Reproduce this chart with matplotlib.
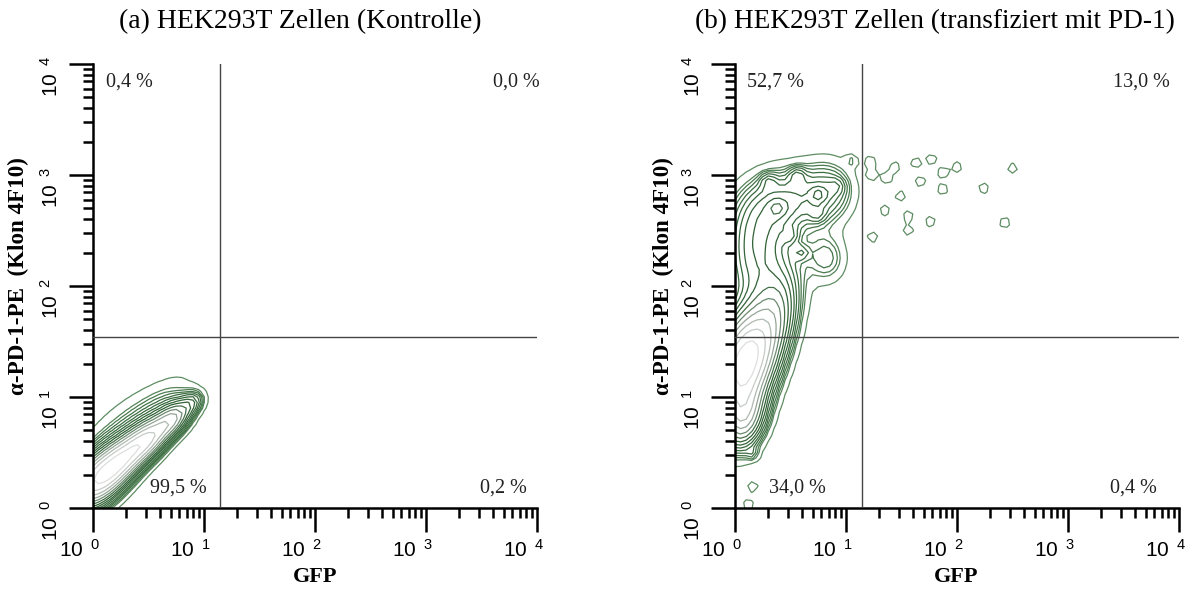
import numpy as np
import matplotlib
matplotlib.use('Agg')
import matplotlib.pyplot as plt
from matplotlib.colors import LinearSegmentedColormap
from matplotlib.ticker import FixedLocator, LogLocator, NullFormatter

W, H = 1195, 589
plt.rcParams['mathtext.fontset'] = 'custom'
plt.rcParams['mathtext.rm'] = 'Liberation Sans'
plt.rcParams['mathtext.it'] = 'Liberation Sans:italic'
plt.rcParams['mathtext.bf'] = 'Liberation Sans:bold'

# ---------------- data ----------------
titles = ['(a) HEK293T Zellen (Kontrolle)',
          '(b) HEK293T Zellen (transfiziert mit PD-1)']
x_label = 'GFP'
y_label = 'α-PD-1-PE  (Klon 4F10)'
decades = [0, 1, 2, 3, 4]
gate_x = 14.0
gate_y = 35.0
# quadrant percentages: upper-left, upper-right, lower-left, lower-right
pct_a = ['0,4 %', '0,0 %', '99,5 %', '0,2 %']
pct_b = ['52,7 %', '13,0 %', '34,0 %', '0,4 %']

# population components, in decades
# (log10 GFP, log10 PE, sd along 45deg, sd across, weight)
clusters_a = [
    (0.04, 0.25, 0.20, 0.12, 1.00),
    (0.28, 0.45, 0.18, 0.10, 0.80),
    (0.50, 0.62, 0.15, 0.09, 0.70),
    (0.72, 0.80, 0.13, 0.08, 0.55),
    (0.90, 0.95, 0.08, 0.06, 0.18),
    (0.25, 0.66, 0.35, 0.16, 0.10),
    (0.60, 0.90, 0.25, 0.11, 0.08),
]
# (log10 GFP, log10 PE, sd GFP, sd PE, corr, weight)
clusters_b = [
    (0.08, 1.30, 0.17, 0.30, 0.3, 1.00),
    (0.08, 0.80, 0.12, 0.18, 0.2, 0.40),
    (0.35, 1.70, 0.15, 0.30, 0.4, 0.30),
    (0.20, 2.30, 0.18, 0.30, 0.0, 0.25),
    (0.45, 2.75, 0.25, 0.20, 0.2, 0.22),
    (0.85, 2.85, 0.15, 0.18, 0.0, 0.12),
    (0.82, 2.25, 0.12, 0.15, 0.0, 0.11),
    (0.56, 3.00, 0.05, 0.05, 0.0, 0.10),
    (0.75, 2.82, 0.05, 0.05, 0.0, 0.10),
    (0.74, 2.64, 0.05, 0.05, 0.0, 0.08),
    (0.60, 2.30, 0.05, 0.05, 0.0, 0.08),
    (0.38, 2.70, 0.05, 0.05, 0.0, 0.10),
    (0.92, 2.90, 0.05, 0.05, 0.0, 0.06),
    (0.30, 2.95, 0.05, 0.05, 0.0, 0.08),
    (0.50, 2.45, 0.05, 0.05, 0.0, 0.08),
]
# isolated events (log10 GFP, log10 PE)
islands_b = [
    (1.05, 3.13), (1.22, 3.12), (1.24, 3.00), (1.37, 2.97), (1.44, 3.07),
    (1.63, 3.11), (1.77, 3.14), (1.87, 3.02), (2.00, 3.07), (2.50, 3.06),
    (2.24, 2.88), (1.87, 2.87), (1.67, 2.94), (1.49, 2.81), (1.35, 2.68),
    (1.56, 2.63), (1.56, 2.50), (1.76, 2.58), (1.24, 2.44), (2.43, 2.57),
    (0.16, 0.48), (0.16, 0.19), (0.12, 0.03),
]

# ---------------- helpers ----------------
g = np.arange(-0.4, 4.2, 0.05)
U, V = np.meshgrid(g, g)


def gauss(u0, v0, su, sv, r, w):
    du = (U - u0) / su
    dv = (V - v0) / sv
    q = (du ** 2 - 2 * r * du * dv + dv ** 2) / (1 - r ** 2)
    return w * np.exp(-0.5 * q)


def diag_gauss(u0, v0, sa, sp, w):
    a = ((U - u0) + (V - v0)) / np.sqrt(2)
    p = ((U - u0) - (V - v0)) / np.sqrt(2)
    return w * np.exp(-0.5 * ((a / sa) ** 2 + (p / sp) ** 2))


level_fracs = np.concatenate([[0.03], np.geomspace(0.06, 0.85, 14)])

Za = sum(diag_gauss(*c) for c in clusters_a)
Zb = sum(gauss(*c) for c in clusters_b)
isl_w = 1.9 * level_fracs[0] * Zb.max()
for (u0, v0) in islands_b:
    Zb = Zb + gauss(u0, v0, 0.04, 0.04, 0.0, isl_w)

cmap = LinearSegmentedColormap.from_list(
    'fc', [(0.0, '#5e8d62'), (0.25, '#3d6e42'), (0.6, '#2f6034'),
           (0.8, '#9aa99c'), (1.0, '#dedede')])

fig = plt.figure(figsize=(W / 100, H / 100), dpi=100)
axes_px = [(93, 537), (735, 1179)]
top_px, bot_px = 64, 508


def ftext(x, y, s, **kw):
    fig.text(x / W, 1 - y / H, s, **kw)


for k, (x0, x1) in enumerate(axes_px):
    ax = fig.add_axes([x0 / W, 1 - bot_px / H, (x1 - x0) / W, (bot_px - top_px) / H])
    Z = Za if k == 0 else Zb
    levels = Z.max() * level_fracs
    cols = [cmap(i / (len(levels) - 1)) for i in range(len(levels))]
    ax.contour(10 ** U, 10 ** V, Z, levels=levels, colors=cols, linewidths=0.9)
    ax.set_xscale('log')
    ax.set_yscale('log')
    ax.set_xlim(1, 1e4)
    ax.set_ylim(1, 1e4)
    ax.axvline(gate_x, color='#444444', lw=1.0, zorder=5)
    ax.axhline(gate_y, color='#444444', lw=1.0, zorder=5)
    for axis in (ax.xaxis, ax.yaxis):
        axis.set_major_locator(FixedLocator([10.0 ** d for d in decades]))
        axis.set_minor_locator(LogLocator(base=10, subs=np.arange(2, 10), numticks=20))
        axis.set_major_formatter(NullFormatter())
        axis.set_minor_formatter(NullFormatter())
    ax.tick_params(which='major', length=17, width=1.8, direction='out')
    ax.tick_params(which='minor', length=7, width=1.8, direction='out')
    for s in ('top', 'right'):
        ax.spines[s].set_visible(False)
    for s in ('left', 'bottom'):
        ax.spines[s].set_linewidth(1.8)
    for d in decades:
        lab = r'$\mathregular{10^{\ \ %d}}$' % d
        ax.annotate(lab, xy=(10.0 ** d, 0), xycoords=('data', 'axes fraction'),
                    xytext=(7, -31), textcoords='offset pixels', ha='right', va='top',
                    fontsize=15, family='Liberation Sans', annotation_clip=False)
        ax.annotate(lab, xy=(0, 10.0 ** d), xycoords=('axes fraction', 'data'),
                    xytext=(-31, 8), textcoords='offset pixels', ha='right', va='top',
                    rotation=90, fontsize=15, family='Liberation Sans',
                    annotation_clip=False)

serif = dict(family='Liberation Serif')
ftext(300, 22, titles[0], ha='center', va='center', fontsize=20, **serif)
ftext(935, 22, titles[1], ha='center', va='center', fontsize=19.6, **serif)
for xc in (315, 956):
    ftext(xc, 577, x_label, ha='center', va='center', fontsize=16, weight='bold', **serif)
for xc in (18, 663):
    ftext(xc, 276, y_label, ha='center', va='center', rotation=90, fontsize=16.6,
          weight='bold', **serif)

pk = dict(fontsize=14.5, va='center', color='#222222', **serif)
ftext(106, 82, pct_a[0], ha='left', **pk)
ftext(540, 82, pct_a[1], ha='right', **pk)
ftext(150, 488, pct_a[2], ha='left', **pk)
ftext(527, 488, pct_a[3], ha='right', **pk)
ftext(747, 82, pct_b[0], ha='left', **pk)
ftext(1170, 82, pct_b[1], ha='right', **pk)
ftext(769, 488, pct_b[2], ha='left', **pk)
ftext(1157, 488, pct_b[3], ha='right', **pk)

fig.savefig('out.png', dpi=100)
